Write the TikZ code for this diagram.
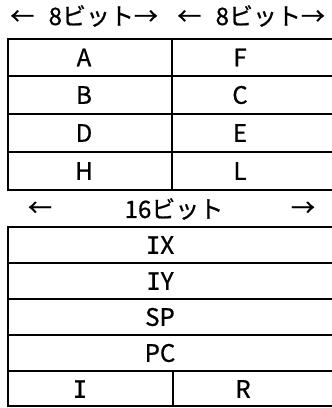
\documentclass[tikz,border=0pt]{standalone}
\usepackage{fontspec}
\setmainfont{Noto Sans CJK JP}[FakeBold=0.8]
\newfontfamily\monoI{DejaVu Sans Mono}[FakeBold=0.8]
\newcommand{\regI}{{\monoI I}}
\tikzset{
  reg/.style={font=\fontsize{18pt}{21pt}\selectfont,inner sep=0pt},
  grid/.style={line width=1.5pt},
}

\begin{document}
\begin{tikzpicture}[x=0.75pt,y=-0.75pt]
  \useasboundingbox (0,0) rectangle (332,408);
  \clip (0,0) rectangle (332,408);
  % ---------- top: the 8-bit register pairs ----------
  \node[reg,anchor=west] (hdA) at (10,16) {←\hspace{0.6em}8ビット→};
  \node[reg,anchor=west] (hdF) at (177,16) {←\hspace{0.6em}8ビット→};
  \foreach \y in {39,76,114,152,190}
    \draw[grid] (8,\y) -- (345,\y);
  \draw[grid] (8,38.3) -- (8,190.7);
  \draw[grid] (172,39) -- (172,190);
  \foreach \y/\hi/\lo in {57.5/A/F,95/B/C,133/D/E,171/H/L}
    {\node[reg] (r\hi) at (84,\y) {\hi};
     \node[reg] (r\lo) at (240,\y) {\lo};}
  % ---------- bottom: the 16-bit registers ----------
  \node[reg] (arL) at (40,209) {←};
  \node[reg] (hd16) at (174,209) {16ビット};
  \node[reg] (arR) at (303,209) {→};
  \foreach \y in {227,263,299,335,371,406}
    \draw[grid] (8,\y) -- (345,\y);
  \draw[grid] (8,226.3) -- (8,406.7);
  \draw[grid] (173,371) -- (173,406);
  \foreach \y/\nm/\lab in {245/IX/{\regI X},281/IY/{\regI Y},317/SP/SP,353/PC/PC}
    \node[reg] (r\nm) at (160,\y) {\lab};
  \node[reg] (rI) at (80,389) {\regI};
  \node[reg] (rR) at (243,389) {R};
\end{tikzpicture}
\end{document}
